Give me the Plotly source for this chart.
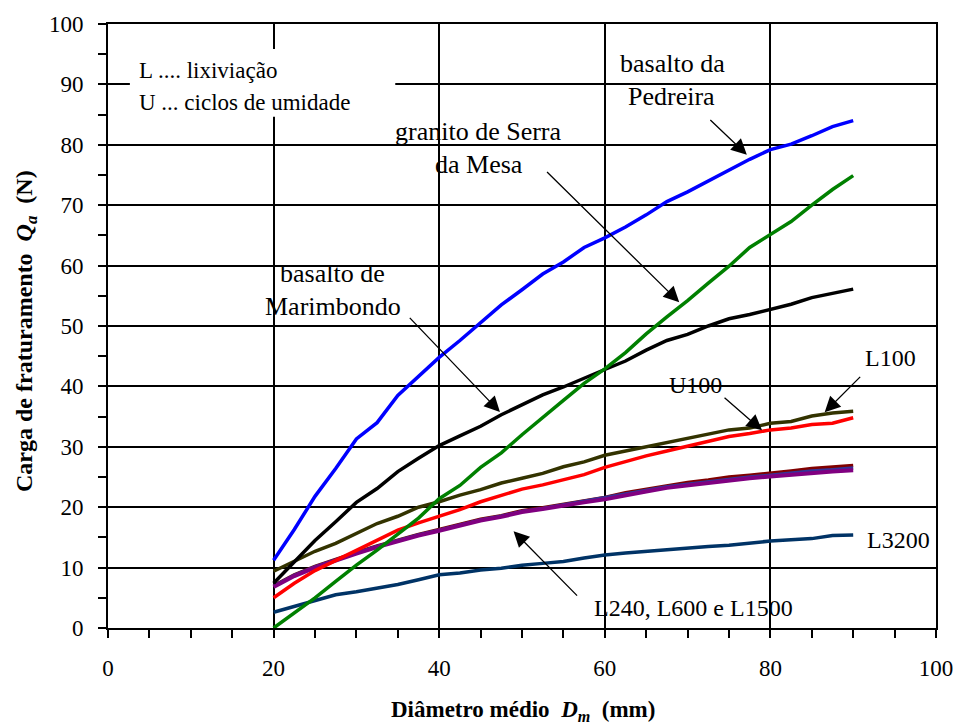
import plotly.graph_objects as go

# Mean diameter D_m (mm) sampled along every curve
diam = [20, 22.5, 25, 27.5, 30, 32.5, 35, 37.5, 40, 42.5, 45, 47.5, 50, 52.5,
        55, 57.5, 60, 62.5, 65, 67.5, 70, 72.5, 75, 77.5, 80, 82.5, 85, 87.5, 90]

# Fracture load Q_a (N)
basalto_pedreira = [11.2, 16.3, 21.8, 26.4, 31.3, 34.0, 38.5, 41.6, 44.8, 47.6, 50.6, 53.5, 56.0, 58.6,
                    60.6, 63.0, 64.6, 66.4, 68.4, 70.6, 72.2, 74.0, 75.9, 77.6, 79.2, 80.1, 81.5, 83.0, 84.0]
granito_serra_mesa = [0.0, 2.5, 5.0, 7.7, 10.4, 12.9, 15.6, 18.2, 21.4, 23.6, 26.6, 29.0, 32.0, 34.9,
                      37.7, 40.5, 42.9, 45.6, 48.7, 51.5, 54.2, 57.1, 59.9, 63.0, 65.1, 67.3, 70.0, 72.6, 74.9]
basalto_marimbondo = [7.4, 11.0, 14.5, 17.6, 20.8, 23.1, 25.9, 28.1, 30.2, 31.8, 33.4, 35.3, 36.9, 38.6,
                      39.9, 41.4, 42.8, 44.2, 46.0, 47.6, 48.6, 50.0, 51.2, 51.9, 52.8, 53.6, 54.7, 55.4, 56.1]
L100 = [9.4, 11.0, 12.7, 14.0, 15.7, 17.3, 18.5, 20.0, 20.9, 22.0, 22.9, 24.0, 24.8, 25.6,
        26.7, 27.5, 28.6, 29.3, 30.1, 30.8, 31.5, 32.1, 32.8, 33.1, 33.9, 34.2, 35.1, 35.6, 35.9]
U100 = [5.0, 7.4, 9.5, 11.2, 12.9, 14.6, 16.2, 17.4, 18.5, 19.6, 20.9, 22.0, 23.0, 23.7,
        24.5, 25.4, 26.6, 27.6, 28.5, 29.3, 30.1, 30.9, 31.7, 32.2, 32.8, 33.1, 33.7, 33.9, 34.8]
L240 = [7.0, 8.8, 10.2, 11.4, 12.5, 13.6, 14.6, 15.5, 16.3, 17.2, 18.0, 18.6, 19.4, 19.9,
        20.5, 21.0, 21.6, 22.4, 23.0, 23.6, 24.1, 24.5, 25.0, 25.3, 25.6, 26.0, 26.4, 26.6, 26.9]
L600 = [6.9, 8.7, 10.1, 11.3, 12.4, 13.5, 14.5, 15.4, 16.2, 17.1, 17.9, 18.5, 19.3, 19.8,
        20.4, 20.9, 21.5, 22.2, 22.8, 23.4, 23.8, 24.2, 24.7, 25.0, 25.3, 25.7, 26.0, 26.2, 26.5]
L1500 = [6.8, 8.6, 10.0, 11.2, 12.3, 13.4, 14.4, 15.3, 16.1, 17.0, 17.8, 18.4, 19.2, 19.7,
         20.3, 20.8, 21.3, 22.0, 22.6, 23.2, 23.6, 24.0, 24.5, 24.8, 25.1, 25.4, 25.7, 25.9, 26.1]
L3200 = [2.6, 3.6, 4.6, 5.5, 6.0, 6.6, 7.2, 8.0, 8.8, 9.1, 9.6, 9.9, 10.4, 10.7,
         11.0, 11.6, 12.1, 12.4, 12.7, 13.0, 13.3, 13.5, 13.7, 14.1, 14.4, 14.6, 14.8, 15.3, 15.4]

curves = [
    (L3200, "#003366", 3.5),
    (L240, "#800000", 3.5),
    (L600, "#333399", 3.5),
    (L1500, "#800080", 4),
    (U100, "#ff0000", 3.5),
    (L100, "#333300", 3.5),
    (basalto_marimbondo, "#000000", 3.5),
    (granito_serra_mesa, "#008000", 3.5),
    (basalto_pedreira, "#0000ff", 3.5),
]

SERIF = "Liberation Serif, Times New Roman, serif"
W, H = 965, 727
L_M, R_M, T_M, B_M = 108, 24, 23, 99
PW, PH = W - L_M - R_M, H - T_M - B_M

fig = go.Figure()
for vals, color, width in curves:
    fig.add_trace(go.Scatter(x=diam, y=vals, mode="lines",
                             line=dict(color=color, width=width),
                             showlegend=False, hoverinfo="skip"))


def paper(px, py):
    """Canvas pixel -> paper fraction."""
    return (px - L_M) / PW, (H - B_M - py) / PH


def data(px, py):
    """Canvas pixel -> data coordinates (both axes span 0..100)."""
    fx, fy = paper(px, py)
    return fx * 100, fy * 100


annotations = []


def label(text, px, py, size, xanchor="center", angle=0):
    x, y = paper(px, py)
    annotations.append(dict(
        text=text, x=x, y=y, xref="paper", yref="paper",
        xanchor=xanchor, yanchor="middle", showarrow=False, textangle=angle,
        font=dict(family=SERIF, size=size, color="black")))


def arrow(head, tail):
    hx, hy = data(*head)
    annotations.append(dict(
        text="", x=hx, y=hy, xref="x", yref="y",
        ax=tail[0] - head[0], ay=tail[1] - head[1],
        showarrow=True, arrowhead=2, arrowsize=2.4, arrowwidth=1.3,
        arrowcolor="black", standoff=0, startstandoff=0))


# key box
label("L .... lixiviação", 137, 70, 23, xanchor="left")
label("U ... ciclos de umidade", 137, 102, 23, xanchor="left")

# curve names
label("basalto da", 676, 63, 26)
label("Pedreira", 675, 96, 26)
label("granito de Serra", 481, 131, 26)
label("da Mesa", 481, 164, 26)
label("basalto de", 334, 273, 26)
label("Marimbondo", 334, 306, 26)
label("L100", 895, 358, 24)
label("U100", 699, 385, 24)
label("L3200", 903, 540, 24)
label("L240, L600 e L1500", 697, 608, 24)

arrow((750.7, 154), (712.7, 117.7))
arrow((682.7, 301.7), (549, 170))
arrow((502.3, 411.7), (410.7, 316))
arrow((829, 412), (866, 375))
arrow((766, 430), (727, 396))
arrow((516, 531), (581, 597))

# axis titles
label("<b>Diâmetro médio\u00a0 <i>D</i><sub><i>m</i></sub>\u00a0 (mm)</b>", 526, 711, 23)
label("<b>Carga de fraturamento\u00a0 <i>Q</i><sub><i>a</i></sub>\u00a0 (N)</b>", 26, 330, 24, angle=-90)

bx0, by0 = paper(130, 116)
bx1, by1 = paper(397, 48)
shapes = [dict(type="rect", xref="paper", yref="paper", x0=bx0, y0=by0, x1=bx1, y1=by1,
               fillcolor="white", line=dict(width=0), layer="above")]

axis_common = dict(
    range=[0, 100], showgrid=True, gridcolor="black", gridwidth=1.5,
    showline=True, linecolor="black", linewidth=2, mirror=True,
    ticks="outside", ticklen=8, tickwidth=1.5, tickcolor="black",
    tickfont=dict(family=SERIF, size=23, color="black"),
    zeroline=False, fixedrange=True,
)

fig.update_layout(
    width=W, height=H, autosize=False,
    margin=dict(l=L_M, r=R_M, t=T_M, b=B_M),
    paper_bgcolor="white", plot_bgcolor="white",
    xaxis=dict(**axis_common, tick0=0, dtick=20, ticklabelstandoff=10,
               minor=dict(dtick=5, ticks="outside", ticklen=8, tickwidth=1.5,
                          tickcolor="black", showgrid=False)),
    yaxis=dict(**axis_common, tick0=0, dtick=10, ticklabelstandoff=10,
               minor=dict(dtick=5, ticks="outside", ticklen=8, tickwidth=1.5,
                          tickcolor="black", showgrid=False)),
    annotations=annotations, shapes=shapes,
)

fig.write_html("out.html")
